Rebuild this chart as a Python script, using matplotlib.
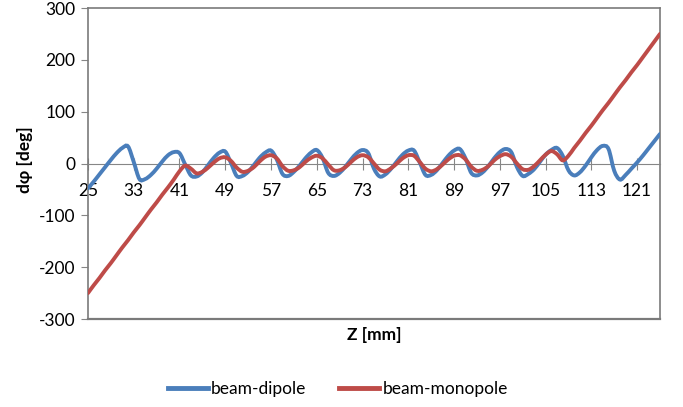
import matplotlib.pyplot as plt
from matplotlib.path import Path
from matplotlib.patches import PathPatch
from matplotlib.lines import Line2D

plt.rcParams['font.family'] = ['Lato', 'DejaVu Sans']

# Z positions (mm), one reading per mm
z = list(range(25, 126))

# phase difference (deg)
dipole = [-48, -35, -21, -7, 7, 20, 30, 33, 3, -30,
          -30, -22, -10, 4, 16, 22, 20, -2, -23, -25,
          -17, -3, 11, 21, 23, 1, -24, -24, -16, -3,
          11, 21, 25, 8, -20, -24, -16, -4, 10, 21,
          26, 11, -18, -24, -18, -6, 8, 20, 26, 20,
          -10, -25, -21, -10, 4, 17, 25, 25, 2, -22,
          -22, -13, 1, 15, 25, 28, 10, -18, -23, -17,
          -5, 10, 22, 28, 22, -7, -24, -20, -11, 3,
          17, 26, 30, 15, -13, -23, -17, -4, 12, 26,
          34, 28, -14, -31, -22, -10, 2, 15, 29, 43, 57]

monopole = [-250, -235, -221, -206, -192, -177, -162, -148, -133, -119,
            -104, -89, -75, -60, -46, -31, -15, -4, -10, -19,
            -16, -8, 2, 10, 12, 5, -8, -16, -14, -7,
            4, 13, 16, 10, -5, -14, -13, -7, 3, 11,
            15, 10, -2, -13, -13, -7, 3, 12, 16, 12,
            0, -12, -15, -9, 0, 10, 16, 15, 3, -10,
            -15, -11, -2, 8, 15, 16, 8, -6, -14, -12,
            -5, 6, 14, 18, 13, 0, -11, -12, -5, 6,
            17, 24, 18, 6, 15, 30, 44, 59, 73, 88,
            103, 117, 132, 147, 161, 176, 190, 205, 220, 235, 250]

x_ticks = list(range(25, 122, 8))
y_ticks = [-300, -200, -100, 0, 100, 200, 300]

blue = '#4a7ebb'
red = '#be4b48'
grey = '#868686'


def smooth_path(xs, ys):
    # smoothed line like the spreadsheet one (Catmull-Rom as Bezier)
    verts = [(xs[0], ys[0])]
    codes = [Path.MOVETO]
    n = len(xs)
    for i in range(n - 1):
        j0 = max(i - 1, 0)
        j3 = min(i + 2, n - 1)
        c1 = (xs[i] + (xs[i + 1] - xs[j0]) / 6, ys[i] + (ys[i + 1] - ys[j0]) / 6)
        c2 = (xs[i + 1] - (xs[j3] - xs[i]) / 6, ys[i + 1] - (ys[j3] - ys[i]) / 6)
        verts += [c1, c2, (xs[i + 1], ys[i + 1])]
        codes += [Path.CURVE4] * 3
    return Path(verts, codes)


fig = plt.figure(figsize=(6.83, 4.07), dpi=100)
ax = fig.add_axes([0.1288, 0.2162, 0.8375, 0.7641])

ax.add_patch(PathPatch(smooth_path(z, dipole), fill=False, edgecolor=blue,
                       lw=2.8, capstyle='round', zorder=3))
ax.add_patch(PathPatch(smooth_path(z, monopole), fill=False, edgecolor=red,
                       lw=2.8, capstyle='round', zorder=3))

ax.set_xlim(25, 125)
ax.set_ylim(-300, 300)

# x axis crosses at zero, frame all round
ax.spines['bottom'].set_position(('data', 0))
ax.spines['bottom'].set_color(grey)
for s in ['left', 'right', 'top']:
    ax.spines[s].set_color('#7a7a7a')
    ax.spines[s].set_linewidth(1.2)
ax.plot([0, 1], [0, 0], transform=ax.transAxes, color='#7a7a7a', lw=1.6, clip_on=False)

ax.set_xticks(x_ticks)
ax.set_xticklabels([str(v) for v in x_ticks])
ax.set_yticks(y_ticks)
ax.set_yticklabels([str(v) for v in y_ticks])
ax.tick_params(axis='x', direction='inout', length=8, color=grey, pad=10, labelsize=12.5)
ax.tick_params(axis='y', direction='out', length=5, color=grey, pad=4, labelsize=12.5)

fig.text(374 / 683, 1 - 335 / 407, 'Z [mm]', ha='center', va='center',
         fontsize=12.5, fontweight='bold')
fig.text(25 / 683, 1 - 160 / 407, 'd\u03c6 [deg]', ha='center', va='center',
         rotation=90, fontsize=12.5, fontweight='bold')

handles = [Line2D([], [], color=blue, lw=3.5), Line2D([], [], color=red, lw=3.5)]
fig.legend(handles, ['beam-dipole', 'beam-monopole'], loc='center',
           bbox_to_anchor=(338 / 683, 1 - 389 / 407), ncol=2, frameon=False,
           fontsize=12.5, handlelength=2.3, handletextpad=0.2, columnspacing=1.9)

fig.savefig('out.png', dpi=100)
